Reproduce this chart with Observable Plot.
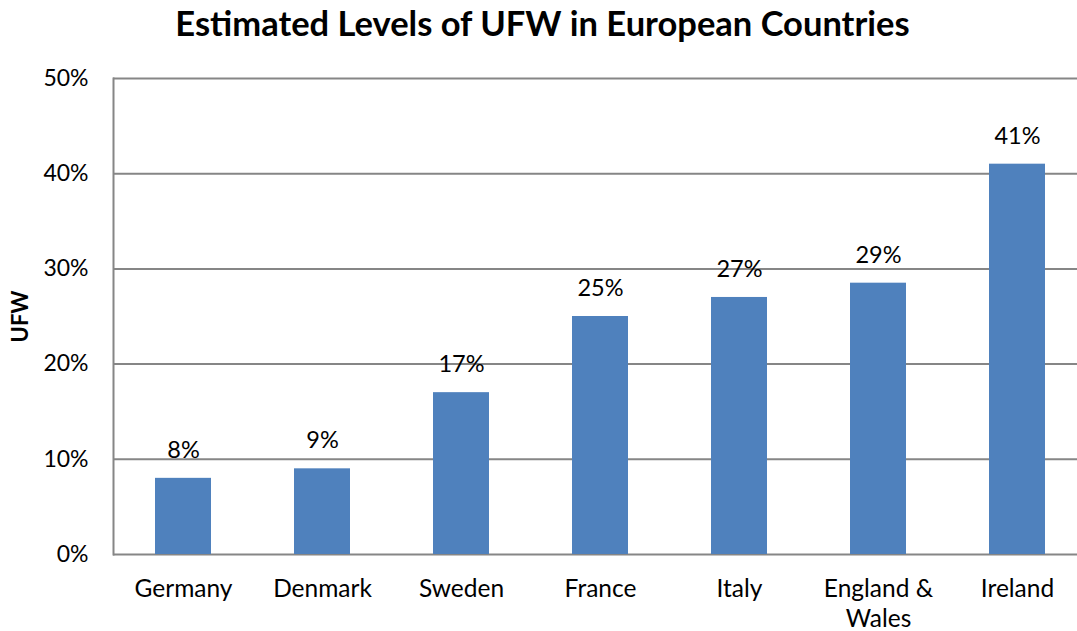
<!DOCTYPE html>
<html><head><meta charset="utf-8">
<script src="https://cdn.jsdelivr.net/npm/d3@7"></script>
<script src="https://cdn.jsdelivr.net/npm/@observablehq/plot@0.6"></script>
<style>
body{margin:0;background:#fff;overflow:hidden;font-family:Lato,sans-serif;width:1077px;height:631px;}
#title{height:58px;line-height:46px;text-align:center;font-weight:bold;font-size:34.5px;color:#000;padding-left:8px;white-space:nowrap;}
#chart{position:relative;width:1077px;height:573px;overflow:hidden;}
#chart svg{max-width:none !important;}
</style></head><body>
<div id="title">Estimated Levels of UFW in European Countries</div>
<div id="chart"></div>
<script>
const countries = ["Germany","Denmark","Sweden","France","Italy","England & Wales","Ireland"];
const tickLabels = ["Germany","Denmark","Sweden","France","Italy","England &\nWales","Ireland"];
const values = [8, 9, 17, 25, 27, 28.5, 41];
const valueLabels = ["8%","9%","17%","25%","27%","29%","41%"];
const yTicks = [0, 10, 20, 30, 40, 50];

const data = countries.map((c, i) => ({country: c, value: values[i], label: valueLabels[i]}));
const labelOf = Object.fromEntries(countries.map((c, i) => [c, tickLabels[i]]));

const chart = Plot.plot({
  width: 1087, height: 573,
  marginTop: 20, marginBottom: 77, marginLeft: 113, marginRight: 0,
  style: {fontFamily: "Lato, sans-serif", fontSize: "23px", color: "#000", background: "#fff", overflow: "visible", maxWidth: "none"},
  x: {domain: countries, paddingInner: 0.6, paddingOuter: 0.3, label: null, axis: null},
  y: {domain: [0, 50], label: null, axis: null},
  marks: [
    Plot.ruleY(yTicks, {stroke: "#868686", strokeWidth: 2}),
    Plot.frame({anchor: "left", stroke: "#868686", strokeWidth: 2}),
    Plot.barY(data, {x: "country", y: "value", fill: "#4F81BD"}),
    Plot.text(data, {x: "country", y: "value", text: "label", dy: -28, fontSize: 23.5, fill: "#000"}),
    Plot.axisY({ticks: yTicks, tickSize: 0, tickPadding: 25, tickFormat: d => d + "%", fontSize: 23, label: null}),
    Plot.axisX({tickSize: 0, tickPadding: 21, tickFormat: d => labelOf[d], fontSize: 24.5, lineHeight: 1.22, label: null, textAnchor: "middle", lineAnchor: "top"}),
    Plot.text(["UFW"], {frameAnchor: "left", textAnchor: "middle", dx: -93, rotate: -90, fontWeight: "bold", fontSize: 22, fill: "#000"})
  ]
});
document.getElementById("chart").appendChild(chart);
</script>
</body></html>
